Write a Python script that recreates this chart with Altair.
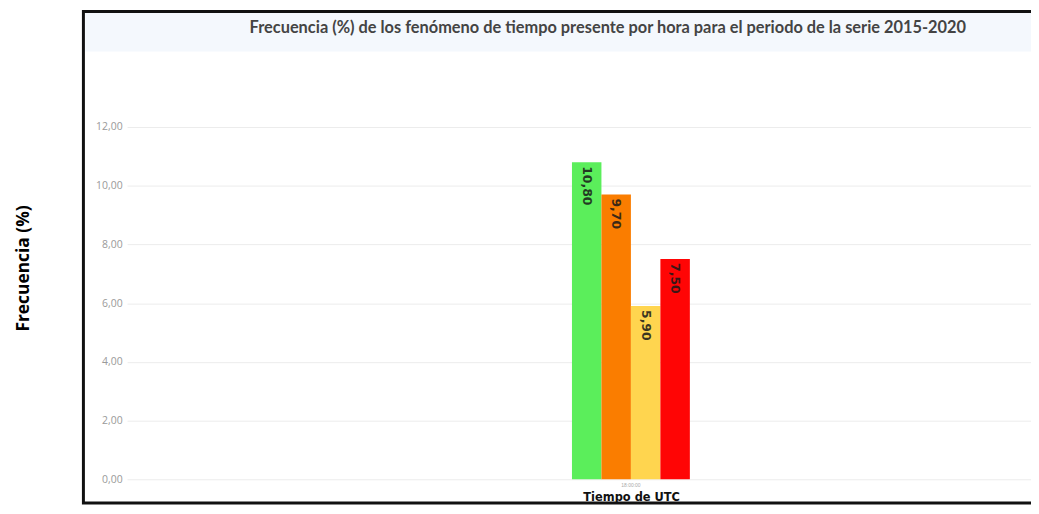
import altair as alt
import pandas as pd

# ---- data ----
horas = ["18:00:00"]
fenomenos = ["Fenómeno 1", "Fenómeno 2", "Fenómeno 3", "Fenómeno 4"]
valores = [10.80, 9.70, 5.90, 7.50]
colores = ["#5BEE5B", "#FA7D00", "#FFD54F", "#FF0505"]
ticks_y = [0, 2, 4, 6, 8, 10, 12]

titulo = "Frecuencia (%) de los fenómeno de tiempo presente por hora para el periodo de la serie 2015-2020"

df = pd.DataFrame({
    "hora": horas * len(fenomenos),
    "fenomeno": fenomenos,
    "valor": valores,
})

W, H = 911, 355

x_enc = alt.X(
    "hora:N",
    title="Tiempo de UTC",
    scale=alt.Scale(paddingInner=0.7, paddingOuter=1, align=0.566, round=False),
    axis=alt.Axis(
        labelAngle=0,
        labelFontSize=5,
        labelColor="#aaaaaa",
        labelPadding=3,
        ticks=False,
        domain=False,
        grid=False,
        titleFont="DejaVu Sans",
        titleFontWeight="bold",
        titleFontSize=11.5,
        titleColor="#111111",
        titleX=508,
        titleY=18,
        titleAlign="center",
        titleBaseline="middle",
    ),
)
xoff_enc = alt.XOffset("fenomeno:N", sort=fenomenos,
                       scale=alt.Scale(paddingInner=0, paddingOuter=0, round=False))
y_enc = alt.Y(
    "valor:Q",
    title="Frecuencia (%)",
    scale=alt.Scale(domain=[0, 12], nice=False),
    axis=alt.Axis(
        values=ticks_y,
        labelExpr="replace(format(datum.value, '.2f'), '.', ',')",
        labelFont="Open Sans",
        labelFontSize=10.5,
        labelColor="#9a9a9a",
        labelPadding=5,
        ticks=False,
        domain=False,
        grid=True,
        gridColor="#ececec",
        gridWidth=1,
        titleFont="Open Sans",
        titleFontWeight="bold",
        titleFontSize=17.5,
        titleColor="#000000",
        titleAngle=-90,
        titleX=-104,
        titleY=142,
        titleAlign="center",
        titleBaseline="middle",
    ),
)
color_enc = alt.Color("fenomeno:N", scale=alt.Scale(domain=fenomenos, range=colores), legend=None)

base = alt.Chart(df)

bars = base.mark_bar().encode(x=x_enc, xOffset=xoff_enc, y=y_enc, color=color_enc)

labels = base.transform_calculate(
    etiqueta="replace(format(datum.valor, '.2f'), '.', ',')"
).mark_text(
    angle=90, align="left", baseline="middle", dx=4,
    font="DejaVu Sans", fontWeight="bold", fontSize=12.5,
    color="#1a1a1a", opacity=0.85,
).encode(x=x_enc, xOffset=xoff_enc, y=y_enc, text="etiqueta:N")

deco = alt.Data(values=[{"k": 1}])
banda = alt.Chart(deco).mark_rect(fill="#F4F8FD").encode(
    x=alt.value(-42), x2=alt.value(W + 10), y=alt.value(-115), y2=alt.value(-76)
)
marco = alt.Chart(deco).mark_rect(fillOpacity=0, stroke="#111111", strokeWidth=3).encode(
    x=alt.value(-44), x2=alt.value(W + 30), y=alt.value(-116.5), y2=alt.value(379)
)

chart = alt.layer(banda, marco, bars, labels).properties(
    width=W,
    height=H,
    autosize=alt.AutoSizeParams(type="none"),
    padding={"left": 120, "top": 118, "right": 0, "bottom": 25},
    title=alt.TitleParams(
        titulo,
        anchor="middle",
        frame="group",
        orient="top",
        offset=-35,
        dx=29,
        baseline="middle",
        font="Lato",
        fontWeight="bold",
        fontSize=16.5,
        color="#444444",
    ),
).configure_view(stroke=None)

chart.save("out.html", embed_options={"renderer": "svg", "actions": False})
